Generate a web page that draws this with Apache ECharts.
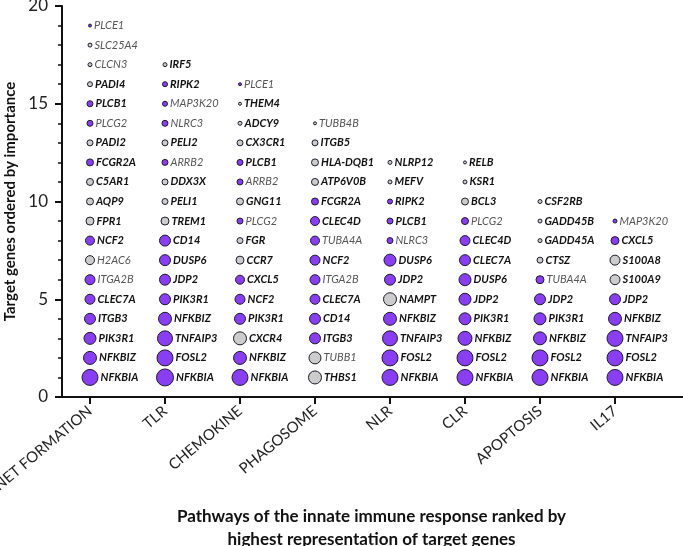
<!DOCTYPE html>
<html>
<head>
<meta charset="UTF-8">
<title></title>
<script src="https://cdn.jsdelivr.net/npm/echarts@6/dist/echarts.min.js"></script>
<style>
  * { padding: 0; margin: 0; }
  #main { width: 683px; height: 546px; }
</style>
</head>
<body>
<div id="main"></div>
<script>
// pathways on the x axis
var pathways = ['NET FORMATION', 'TLR', 'CHEMOKINE', 'PHAGOSOME', 'NLR', 'CLR', 'APOPTOSIS', 'IL17'];

// genes per pathway, rank 1 at the bottom
// class: P = purple bold, p = purple regular, G = grey bold, g = grey regular
var netGenes = ['NFKBIA','NFKBIZ','PIK3R1','ITGB3','CLEC7A','ITGA2B','H2AC6','NCF2','FPR1','AQP9','C5AR1','FCGR2A','PADI2','PLCG2','PLCB1','PADI4','CLCN3','SLC25A4','PLCE1'];
var netWeight = [16,13,12,11,10,10,9,9,8,7,7,7,6,6,6,5,4,4,3];
var netClass = ['P','P','P','P','P','p','g','P','G','G','G','P','G','p','P','G','g','g','p'];

var tlrGenes = ['NFKBIA','FOSL2','TNFAIP3','NFKBIZ','PIK3R1','JDP2','DUSP6','CD14','TREM1','PELI1','DDX3X','ARRB2','PELI2','NLRC3','MAP3K20','RIPK2','IRF5'];
var tlrWeight = [17,16,15,13,11,11,11,11,8,6,6,6,6,6,5,5,4];
var tlrClass = ['P','P','P','P','P','P','P','P','G','G','G','p','G','p','p','P','G'];

var chemGenes = ['NFKBIA','NFKBIZ','CXCR4','PIK3R1','NCF2','CXCL5','CCR7','FGR','PLCG2','GNG11','ARRB2','PLCB1','CX3CR1','ADCY9','THEM4','PLCE1'];
var chemWeight = [16,13,13,11,10,9,8,6,6,7,6,6,6,4,3,3];
var chemClass = ['P','P','G','P','P','P','G','G','p','G','p','P','G','G','G','p'];

var phagGenes = ['THBS1','TUBB1','ITGB3','CD14','CLEC7A','ITGA2B','NCF2','TUBA4A','CLEC4D','FCGR2A','ATP6V0B','HLA-DQB1','ITGB5','TUBB4B'];
var phagWeight = [13,12,11,11,10,10,10,9,9,7,7,7,6,3];
var phagClass = ['G','g','P','P','P','p','P','p','P','P','G','G','G','g'];

var nlrGenes = ['NFKBIA','FOSL2','TNFAIP3','NFKBIZ','NAMPT','JDP2','DUSP6','NLRC3','PLCB1','RIPK2','MEFV','NLRP12'];
var nlrWeight = [16,16,15,13,13,11,12,6,6,5,4,4];
var nlrClass = ['P','P','P','P','G','P','P','p','P','P','G','G'];

var clrGenes = ['NFKBIA','FOSL2','NFKBIZ','PIK3R1','JDP2','DUSP6','CLEC7A','CLEC4D','PLCG2','BCL3','KSR1','RELB'];
var clrWeight = [16,16,14,12,12,12,11,10,7,7,4,3];
var clrClass = ['P','P','P','P','P','P','P','P','p','G','G','G'];

var apoGenes = ['NFKBIA','FOSL2','NFKBIZ','PIK3R1','JDP2','TUBA4A','CTSZ','GADD45A','GADD45B','CSF2RB'];
var apoWeight = [16,16,13,12,11,8,6,4,4,4];
var apoClass = ['P','P','P','P','P','p','G','G','G','G'];

var il17Genes = ['NFKBIA','FOSL2','TNFAIP3','NFKBIZ','JDP2','S100A9','S100A8','CXCL5','MAP3K20'];
var il17Weight = [16,16,16,13,11,10,10,8,4];
var il17Class = ['P','P','P','P','P','G','G','P','p'];

var columns = [
  [netGenes, netWeight, netClass],
  [tlrGenes, tlrWeight, tlrClass],
  [chemGenes, chemWeight, chemClass],
  [phagGenes, phagWeight, phagClass],
  [nlrGenes, nlrWeight, nlrClass],
  [clrGenes, clrWeight, clrClass],
  [apoGenes, apoWeight, apoClass],
  [il17Genes, il17Weight, il17Class]
];

var FONT = 'Lato, "Open Sans", sans-serif';
var PURPLE = '#8a3ef2';
var GREY = '#cccccc';
// gap between the y axis and the first pathway, in category units
var LEAD = 0.3733;

var tickPos = pathways.map(function (p, i) { return i + LEAD; });

var series = columns.map(function (col, ci) {
  var data = col[0].map(function (g, i) {
    var cls = col[2][i];
    var purple = cls === 'P' || cls === 'p';
    var bold = cls === 'P' || cls === 'G';
    return {
      name: g,
      value: [ci + LEAD, i + 1, col[1][i]],
      itemStyle: { color: purple ? PURPLE : GREY },
      label: {
        fontWeight: bold ? 'bold' : 'normal',
        color: bold ? '#111' : '#555'
      }
    };
  });
  return {
    type: 'scatter',
    name: pathways[ci],
    data: data,
    symbolSize: function (v) { return v[2]; },
    itemStyle: { borderColor: '#1c1c2c', borderWidth: 1, opacity: 1 },
    label: {
      show: true,
      position: 'right',
      distance: 2,
      formatter: '{b}',
      fontStyle: 'italic',
      fontSize: 11
    },
    emphasis: { disabled: true }
  };
});

var myChart = echarts.init(document.getElementById('main'));
myChart.setOption({
  animation: false,
  backgroundColor: '#fff',
  textStyle: { fontFamily: FONT },
  // x starts a hair below 0 so the y axis sits on x = 0 just inside the grid
  grid: { left: 60, right: 0, top: 6, bottom: 149, containLabel: false, outerBoundsMode: 'none' },
  xAxis: {
    type: 'value',
    min: -0.026667,
    max: 8.28,
    splitLine: { show: false },
    axisLine: { show: true, lineStyle: { color: '#111', width: 2 } },
    axisTick: { show: true, length: 7, lineStyle: { color: '#111', width: 2 }, customValues: tickPos },
    axisLabel: {
      customValues: tickPos,
      formatter: function (v) {
        var name = pathways[Math.round(v - LEAD)];
        return name ? name : '';
      },
      rotate: 40,
      margin: 12,
      fontSize: 15,
      color: '#222'
    },
    name: 'Pathways of the innate immune response ranked by\nhighest representation of target genes',
    nameLocation: 'middle',
    nameGap: 108,
    nameTextStyle: { fontWeight: 'bold', fontSize: 17, color: '#111', lineHeight: 23 }
  },
  yAxis: {
    type: 'value',
    min: 0,
    max: 20,
    interval: 5,
    splitLine: { show: false },
    axisLine: { show: true, lineStyle: { color: '#111', width: 2 } },
    axisTick: { show: true, length: 7, lineStyle: { color: '#111', width: 2 } },
    minorTick: { show: true, splitNumber: 5, length: 4, lineStyle: { color: '#111', width: 1.5 } },
    axisLabel: { fontSize: 17, color: '#222', margin: 12 },
    name: 'Target genes ordered by importance',
    nameLocation: 'middle',
    nameGap: 36,
    nameTextStyle: { fontWeight: 'bold', fontSize: 15, color: '#111' }
  },
  series: series
});
</script>
</body>
</html>
